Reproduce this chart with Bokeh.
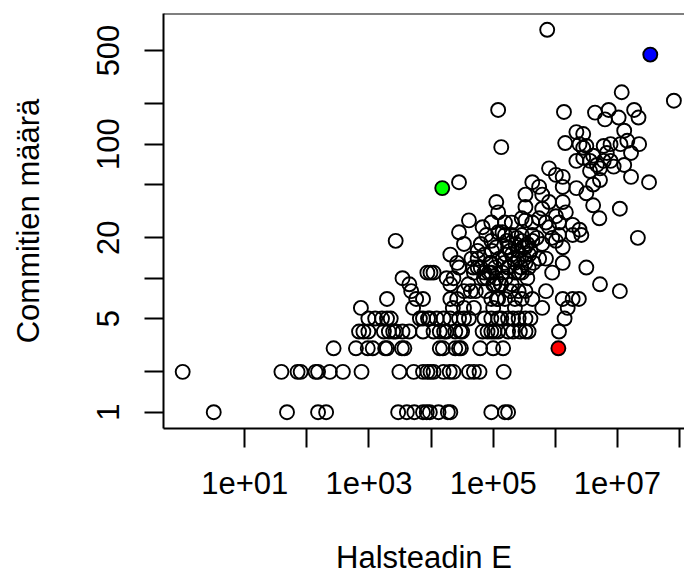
import numpy as np
from bokeh.plotting import figure
from bokeh.models import Range1d, FixedTicker, CustomJSTickFormatter, Span, ColumnDataSource
from bokeh.embed import file_html
from bokeh.resources import INLINE

FONT = "Liberation Sans"

x_label = "Halsteadin E"
y_label = "Commitien määrä"

x_tick_values = [1e1, 1e2, 1e3, 1e4, 1e5, 1e6, 1e7, 1e8]
x_tick_labels = ["1e+01", "", "1e+03", "", "1e+05", "", "1e+07", ""]
y_tick_values = [1, 2, 5, 10, 20, 50, 100, 200, 500]
y_tick_labels = ["1", "", "5", "", "20", "", "100", "", "500"]

# log10 of Halstead E, and the commit count of the same point (row by row)
halstead_log10 = [
    0.50, 1.68, 2.18, 2.31, 3.47, 3.61, 3.73, 3.87, 3.93, 3.98, 4.12, 4.27, 4.31, 4.97, 5.19, 5.24,
    0.00, 1.59, 1.85, 1.90, 2.14, 2.18, 2.37, 2.58, 2.88, 3.49, 3.72, 3.87, 3.94, 3.99, 4.04, 4.20, 4.30, 4.36, 4.61, 4.69, 4.78, 5.17,
    2.43, 2.79, 2.98, 3.06, 3.26, 3.29, 3.53, 3.57, 4.14, 4.19, 4.39, 4.45, 4.48, 4.79, 5.00, 5.16,
    2.84, 2.91, 2.99, 3.24, 3.32, 3.39, 3.43, 3.54, 3.65, 3.87, 4.04, 4.14, 4.21, 4.25, 4.39, 4.47, 4.50, 4.83, 4.91, 4.97, 5.02, 5.08, 5.24, 5.32, 5.43, 5.52, 5.57, 6.06,
    2.99, 3.10, 3.21, 3.29, 3.35, 3.82, 3.87, 3.95, 3.98, 4.09, 4.20, 4.31, 4.45, 4.53, 4.61, 4.86, 4.97, 5.08, 5.13, 5.24, 5.32, 5.41, 5.52, 5.60, 6.15,
    2.87, 3.71, 4.35, 4.53, 4.69, 5.00, 5.35, 5.79, 6.20,
    3.29, 3.76, 3.87, 4.31, 4.42, 4.97, 5.08, 5.19, 5.35, 5.46, 5.63, 6.12, 6.28, 6.38, 5.06,
    3.68, 4.53, 4.64, 5.41, 5.52, 5.85, 7.04, 4.72, 4.88, 5.28,
    3.65, 4.31, 5.00, 5.02, 5.13, 5.30, 6.72, 4.60, 5.12,
    3.54, 4.25, 4.36, 4.90, 5.05, 5.20, 5.55, 4.85,
    3.94, 3.99, 4.04, 4.69, 4.86, 4.97, 5.15, 5.35, 5.46, 5.95, 4.93, 5.42,
    4.45, 4.75, 4.80, 5.24, 5.25, 5.45, 5.57, 6.50, 5.03, 4.68,
    4.42, 4.95, 4.97, 5.35, 5.52, 5.65, 6.12, 5.18,
    4.65, 4.75, 5.10, 5.41, 5.50, 5.74, 5.85, 5.33,
    4.31, 4.86, 5.20, 5.30, 5.58,
    4.75, 5.40, 5.60, 5.27, 4.98,
    5.05, 5.24, 5.52, 6.12, 5.48,
    4.53, 4.80, 5.55, 5.79, 5.36,
    3.43, 4.97, 5.46, 5.63, 6.01, 5.22,
    5.38, 5.70, 5.95, 7.33,
    4.89, 5.19, 5.30, 5.46, 5.63, 6.06, 6.28, 6.42,
    4.45, 5.08, 5.15,
    6.39,
    4.83, 5.90,
    6.28,
    4.97, 5.19, 5.30, 5.63, 5.85, 6.06,
    4.61, 5.52,
    5.46, 5.74, 6.71,
    6.01,
    6.17, 5.08,
    5.79, 7.04,
    5.52,
    6.61,
    5.05, 5.90, 6.12,
    5.52, 5.79,
    6.50,
    6.34,
    5.74, 6.12,
    6.61,
    4.45, 5.63, 7.51,
    6.72,
    6.12, 7.22,
    6.01,
    6.56,
    5.90, 6.72,
    6.94,
    6.67, 7.11,
    6.34, 6.56, 6.78, 6.89,
    6.45,
    6.61,
    7.22, 6.83,
    6.45,
    5.13,
    6.50, 6.78,
    6.39, 7.05, 7.35, 6.89,
    6.16,
    7.16,
    6.45,
    6.34,
    7.11,
    6.80,
    7.02, 7.34,
    6.64,
    6.14,
    5.08, 6.86, 7.27,
    7.91,
    7.07,
    5.87,
]
commit_count = [
    1, 1, 1, 1, 1, 1, 1, 1, 1, 1, 1, 1, 1, 1, 1, 1,
    2, 2, 2, 2, 2, 2, 2, 2, 2, 2, 2, 2, 2, 2, 2, 2, 2, 2, 2, 2, 2, 2,
    3, 3, 3, 3, 3, 3, 3, 3, 3, 3, 3, 3, 3, 3, 3, 3,
    4, 4, 4, 4, 4, 4, 4, 4, 4, 4, 4, 4, 4, 4, 4, 4, 4, 4, 4, 4, 4, 4, 4, 4, 4, 4, 4, 4,
    5, 5, 5, 5, 5, 5, 5, 5, 5, 5, 5, 5, 5, 5, 5, 5, 5, 5, 5, 5, 5, 5, 5, 5, 5,
    6, 6, 6, 6, 6, 6, 6, 6, 6,
    7, 7, 7, 7, 7, 7, 7, 7, 7, 7, 7, 7, 7, 7, 7,
    8, 8, 8, 8, 8, 8, 8, 8, 8, 8,
    9, 9, 9, 9, 9, 9, 9, 9, 9,
    10, 10, 10, 10, 10, 10, 10, 10,
    11, 11, 11, 11, 11, 11, 11, 11, 11, 11, 11, 11,
    12, 12, 12, 12, 12, 12, 12, 12, 12, 12,
    13, 13, 13, 13, 13, 13, 13, 13,
    14, 14, 14, 14, 14, 14, 14, 14,
    15, 15, 15, 15, 15,
    16, 16, 16, 16, 16,
    17, 17, 17, 17, 17,
    18, 18, 18, 18, 18,
    19, 19, 19, 19, 19, 19,
    20, 20, 20, 20,
    21, 21, 21, 21, 21, 21, 21, 21,
    22, 22, 22,
    23,
    24, 24,
    25,
    26, 26, 26, 26, 26, 26,
    27, 27,
    28, 28, 28,
    29,
    31, 31,
    33, 33,
    34,
    35,
    37, 37, 37,
    42, 42,
    43,
    47,
    48, 48,
    50,
    52, 52, 52,
    54,
    57, 57,
    59,
    63,
    66, 66,
    68,
    70, 70,
    75, 75, 75, 75,
    79,
    82,
    86, 86,
    94,
    95,
    97, 97,
    100, 100, 100, 100,
    102,
    106,
    119,
    123,
    126,
    153,
    158, 158,
    172,
    174,
    180, 180, 180,
    211,
    244,
    714,
]

# three highlighted files
highlight_log10 = [4.18, 7.53, 6.05]
highlight_count = [47, 466, 3]
highlight_color = ["#00FF00", "#0000FF", "#FF0000"]

src = ColumnDataSource(dict(e=np.power(10.0, halstead_log10), c=commit_count))
hsrc = ColumnDataSource(dict(e=np.power(10.0, highlight_log10), c=highlight_count, col=highlight_color))

p = figure(width=684, height=580, x_axis_type="log", y_axis_type="log",
           x_range=Range1d(10 ** -0.309, 10 ** 8.081),
           y_range=Range1d(10 ** -0.1216, 10 ** 2.975),
           output_backend="svg", toolbar_location=None,
           min_border_left=163, min_border_right=0, min_border_top=13, min_border_bottom=152)

p.outline_line_color = None
p.grid.visible = False
p.background_fill_color = "white"
p.border_fill_color = "white"

for ax in (p.xaxis[0], p.yaxis[0]):
    ax.axis_line_color = "black"
    ax.axis_line_width = 2
    ax.major_tick_line_color = "black"
    ax.major_tick_line_width = 2
    ax.major_tick_out = 19
    ax.major_tick_in = 0
    ax.minor_tick_line_color = None
    ax.major_label_text_font = FONT
    ax.major_label_text_font_size = "31px"
    ax.major_label_text_color = "black"
    ax.axis_label_text_font = FONT
    ax.axis_label_text_font_size = "31px"
    ax.axis_label_text_font_style = "normal"
    ax.axis_label_text_color = "black"

p.xaxis.ticker = FixedTicker(ticks=x_tick_values, minor_ticks=[])
p.yaxis.ticker = FixedTicker(ticks=y_tick_values, minor_ticks=[])
fmt_code = """
const lt = Math.log10(tick);
for (let i = 0; i < vals.length; i++) {
  if (Math.abs(Math.log10(vals[i]) - lt) < 1e-6) return labels[i];
}
return "";
"""
p.xaxis.formatter = CustomJSTickFormatter(args=dict(vals=x_tick_values, labels=x_tick_labels), code=fmt_code)
p.yaxis.formatter = CustomJSTickFormatter(args=dict(vals=y_tick_values, labels=y_tick_labels), code=fmt_code)
p.xaxis.major_label_standoff = 24
p.yaxis.major_label_standoff = 25
p.yaxis.major_label_orientation = "vertical"

p.yaxis.axis_label = y_label
p.yaxis.axis_label_standoff = 49
p.xaxis.axis_label = x_label
p.xaxis.axis_label_standoff = 43

p.add_layout(Span(location=p.y_range.end, dimension="width", line_color="black", line_width=2))

p.scatter("e", "c", source=src, marker="circle", size=14, fill_color=None,
          line_color="black", line_width=1.9)
p.scatter("e", "c", source=hsrc, marker="circle", size=14, fill_color="col",
          line_color="black", line_width=1.9)

open("out.html", "w").write(file_html(p, INLINE))
